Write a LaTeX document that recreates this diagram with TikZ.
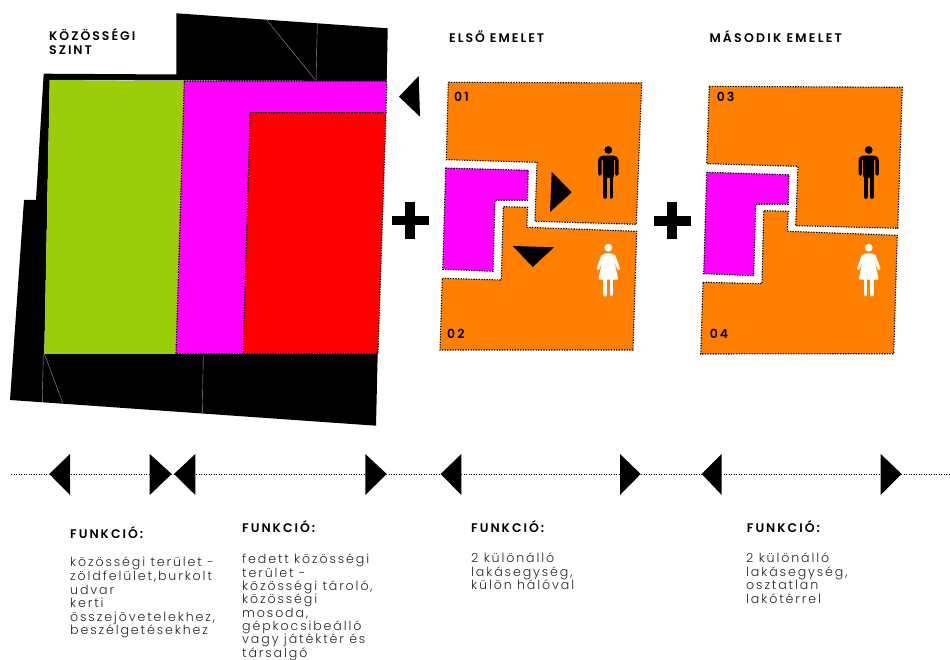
\documentclass[tikz,border=0pt]{standalone}
\usepackage{fontspec}
\setmainfont{Poppins}
\newfontfamily\headfont[LetterSpace=16]{Poppins SemiBold}
\newfontfamily\wideheadfont[LetterSpace=18]{Poppins SemiBold}
\newfontfamily\bodyfont[LetterSpace=15]{Poppins Light}
\definecolor{lawn}{RGB}{155,205,10}
\definecolor{shared}{RGB}{255,0,255}
\definecolor{store}{RGB}{255,0,0}
\definecolor{flat}{RGB}{255,128,0}
\begin{document}
\begin{tikzpicture}[
        x=1pt, y=-1pt,
        mass/.style={fill=black},
        seam/.style={draw=gray!80, line width=0.4pt},
        plan/.style={draw=black, line width=1.1pt, dash pattern=on 1.3pt off 1.3pt},
        timeline/.style={draw=black, line width=0.7pt, dash pattern=on 1.2pt off 1.3pt},
        title/.style={anchor=base west, inner sep=0pt, align=left, font=\headfont\fontsize{12.5}{14}\selectfont},
        flatno/.style={anchor=base west, inner sep=0pt, font=\headfont\fontsize{12.5}{13}\selectfont},
        head/.style={anchor=base west, inner sep=0pt, font=\headfont\fontsize{12.5}{13}\selectfont},
        body/.style={anchor=north west, inner sep=0pt, align=left, text=black!85, font=\bodyfont\fontsize{12.6}{13.6}\selectfont},
        tightbody/.style={body, font=\bodyfont\fontsize{12.6}{13.3}\selectfont},
        man/.pic={
            \fill (0,4) circle (3.9);
            \fill[rounded corners=2pt] (-5.5,10) -- (5.5,10) -- (5.5,32) -- (-5.5,32) -- cycle;
            \draw[line width=3.6pt, line cap=round, line join=round, rounded corners=3pt] (-8.4,28) -- (-8.4,11.5) -- (8.4,11.5) -- (8.4,28);
            \draw[line width=3.8pt, line cap=round] (-3.1,30) -- (-3.1,51) (3.1,30) -- (3.1,51);
        },
        woman/.pic={
            \fill (0,4) circle (3.9);
            \fill[rounded corners=1pt] (-4.5,9.8) -- (4.5,9.8) -- (10,36) -- (-10,36) -- cycle;
            \draw[line width=3pt, line cap=round] (-5.5,12) -- (-10.3,25) (5.5,12) -- (10.3,25);
            \draw[line width=3.6pt, line cap=round] (-3.1,35) -- (-3.1,51) (3.1,35) -- (3.1,51);
        }
    ]
    \useasboundingbox (0,0) rectangle (950,660);
    \fill[mass] (176.3,13.3) -- (387.7,28.3) -- (386.7,81) -- (49.7,80) -- (44.3,353.5) -- (377.7,353.5) -- (376,425.7)
        -- (10,400) -- (24,200) -- (36,200) -- (43.7,73.7) -- (176.3,74.5) -- cycle;
    \draw[seam] (266.7,20) -- (316,80.7);
    \draw[seam] (317.3,23.3) -- (316,80.7);
    \draw[seam] (44.3,353.7) -- (62.7,402.7);
    \draw[seam] (43.3,353.7) -- (42.3,402);
    \draw[seam] (203.3,353.7) -- (202.3,413.3);
    \fill[lawn] (49.7,80) -- (184.3,81) -- (176,353.7) -- (44.3,353.7) -- cycle;
    \path[fill=shared, plan] (184.3,81) -- (386.7,81) -- (386,112.7) -- (250.3,112.7) -- (243.3,353.7) -- (176,353.7) -- cycle;
    \path[fill=store, plan] (250.3,112.7) -- (386,112.7) -- (378,353.5) -- (243.3,353.5) -- cycle;

    \path[fill=flat, plan] (448.3,82.3) -- (641.7,83) -- (636.3,224.3) -- (535,221.3) -- (537,162.3) -- (446.3,159.7) -- cycle;
    \path[fill=flat, plan] (442.3,278.3) -- (501.3,280) -- (503.3,206.7) -- (527.7,207.3) -- (526.7,227.3) -- (636.7,231.3) -- (633,350) -- (440,350) -- cycle;
    \path[fill=shared, plan] (445.7,168) -- (528.3,170.3) -- (527.3,200.3) -- (495,200.3) -- (493,271.3) -- (442.7,269.3) -- cycle;
    \path[fill=flat, plan] (709.3,86.3) -- (902.3,87.3) -- (897.7,228.3) -- (795.7,225.7) -- (798,166.3) -- (706.7,163.7) -- cycle;
    \path[fill=flat, plan] (703,282.3) -- (762,283.7) -- (763.7,210.7) -- (788.3,211.3) -- (787.3,231.3) -- (897.3,235.3) -- (893.7,353.7) -- (700.7,354) -- cycle;
    \path[fill=shared, plan] (706.7,172.3) -- (789,174.7) -- (788.3,204.3) -- (755.7,204.3) -- (753.7,275.7) -- (703.7,273.7) -- cycle;

    \fill[mass] (418.7,76) -- (399,96.7) -- (420,116.7) -- cycle;
    \fill[mass] (551.7,171.7) -- (571.7,192.3) -- (550,212) -- cycle;
    \fill[mass] (512.7,246) -- (554,247.3) -- (532.7,267) -- cycle;
    \foreach \cx/\cy in {410/220.7, 672/220.8} {
        \fill[mass] (\cx-18.5,\cy-4.8) rectangle (\cx+18.5,\cy+4.8);
        \fill[mass] (\cx-4.8,\cy-18.5) rectangle (\cx+4.8,\cy+18.5);
    }
    \pic[black] at (608.3,146) {man};
    \pic[white] at (608.3,243.7) {woman};
    \pic[black] at (868.7,146) {man};
    \pic[white] at (868.7,243.7) {woman};

    \node[title] (ground) at (49,55) {KÖZÖSSÉGI\\SZINT};
    \node[title] (first) at (449,42.8) {ELSŐ EMELET};
    \node[title, font=\wideheadfont\fontsize{12.5}{14}\selectfont] (second) at (709.3,42.8) {MÁSODIK EMELET};
    \node[flatno] (flat01) at (454,101.2) {01};
    \node[flatno] (flat02) at (447,338.7) {02};
    \node[flatno] (flat03) at (716.7,101.2) {03};
    \node[flatno] (flat04) at (709.7,338.7) {04};

    \coordinate (linestart) at (11,474);
    \coordinate (lineend) at (950,474);
    \draw[timeline] (linestart) -- (lineend);
    \foreach \tip/\base in {49.3/70, 171.7/149.7, 174/195.3, 386.7/365.3, 440.7/461.3, 640.7/620, 701.7/721.7, 901.7/880.7} {
        \fill[mass] (\tip,474) -- (\base,454) -- (\base,495) -- cycle;
    }

    \node[head] (func1) at (70,538) {FUNKCIÓ:};
    \node[head] (func2) at (242,532.7) {FUNKCIÓ:};
    \node[head] (func3) at (471,532.7) {FUNKCIÓ:};
    \node[head] (func4) at (746.7,532.7) {FUNKCIÓ:};
    \node[body] (text1) at (70,557) {közösségi terület -\\zöldfelület,burkolt\\udvar\\kerti\\összejövetelekhez,\\beszélgetésekhez};
    \node[tightbody] (text2) at (242,554) {fedett közösségi\\terület -\\közösségi tároló,\\közösségi\\mosoda,\\gépkocsibeálló\\vagy játéktér és\\társalgó};
    \node[body] (text3) at (471,552.5) {2 különálló\\lakásegység,\\külön hálóval};
    \node[body] (text4) at (746,552.5) {2 különálló\\lakásegység,\\osztatlan\\lakótérrel};
\end{tikzpicture}
\end{document}
